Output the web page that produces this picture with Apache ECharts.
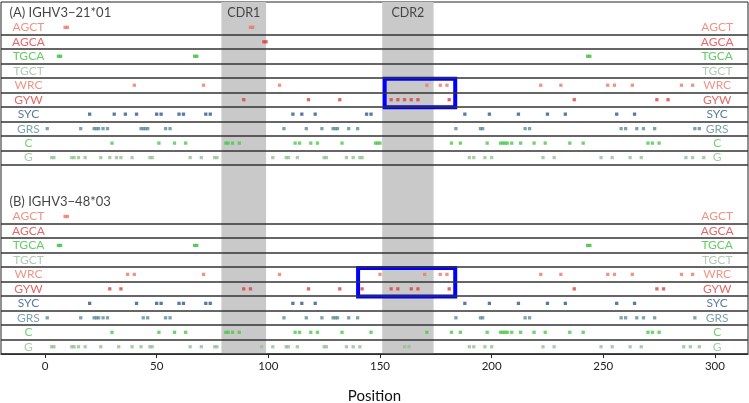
<!DOCTYPE html>
<html><head><meta charset="utf-8">
<script src="https://cdn.jsdelivr.net/npm/echarts@6/dist/echarts.min.js"></script>
<style>html,body{margin:0;padding:0;background:#fff}#c{width:749px;height:403px}</style>
</head><body><div id="c"></div>
<script>
// ---- data ----
const motifs = ['AGCT','AGCA','TGCA','TGCT','WRC','GYW','SYC','GRS','C','G'];
const motifColors = ['#ec7868','#e23f44','#3fbf3f','#9dbd9d','#ea7b6c','#e0403f','#2f5a8c','#5d8c99','#4cc84c','#92c292'];
const panelTitles = ['(A) IGHV3\u221221*01','(B) IGHV3\u221248*03'];
const xTicks = [0,50,100,150,200,250,300];
const cdrNames = ['CDR1','CDR2'];
const cdrStart = [79,151];
const cdrEnd = [99,174];
const boxA = [152.1,183.7];
const boxB = [140.2,183.7];

const aAGCT = [9,10,92,93];
const aAGCA = [98,99];
const aTGCA = [6,7,67,68,243,244];
const aTGCT = [];
const aWRC = [40,71,105,171,177,180,222,231,252,255,263,285,290];
const aGYW = [89,118,132,155,158,161,164,167,181,237,274,279];
const aSYC = [20,31,36,41,50,52,60,62,72,74,111,115,121,144,146,188,199,212,225,233,256,264];
const aGRS = [1,16,22,23,24,26,28,43,44,45,46,54,56,107,117,124,129,130,131,136,140,184,195,196,215,217,258,260,265,268,273,291,293];
const aC = [30,51,58,63,81,82,84,87,112,114,119,122,133,148,149,150,182,186,198,204,205,206,207,209,213,219,224,235,241,270,272,275];
const aG = [3,4,12,13,15,18,25,29,32,34,39,47,48,65,70,76,77,102,108,109,113,125,126,135,138,141,142,190,192,197,200,223,228,249,254,262,267,287,290,295];

const bAGCT = [9,10];
const bAGCA = [];
const bTGCA = [6,7,67,68,243,244];
const bTGCT = [];
const bWRC = [37,40,71,105,150,170,177,180,222,231,252,255,263,285,290];
const bGYW = [29,34,89,92,118,132,142,155,158,164,167,181,237,274,277];
const bSYC = [20,41,50,52,60,62,72,74,111,115,121,188,199,212,225,233,256,264];
const bGRS = [1,16,22,23,24,26,28,44,46,54,56,107,117,124,129,130,131,136,140,184,195,196,215,217,258,260,265,268,273,291];
const bC = [30,51,58,63,81,82,84,87,112,114,119,122,133,146,171,182,186,198,204,205,206,207,209,213,219,224,235,241,270,272,275];
const bG = [3,4,12,13,15,18,25,33,39,43,47,48,65,70,76,77,97,102,108,109,113,125,126,135,138,141,161,163,190,192,197,200,223,228,249,254,262,267,286,289,293];

const panelA = [aAGCT,aAGCA,aTGCA,aTGCT,aWRC,aGYW,aSYC,aGRS,aC,aG];
const panelB = [bAGCT,bAGCA,bTGCA,bTGCT,bWRC,bGYW,bSYC,bGRS,bC,bG];

// ---- layout ----
const FONT = 'Lato, "Open Sans", sans-serif';
const panelOffset = [0, 13.07];
const xMin = -19.7, xMax = 314.8;
const leftLabelX = -7.4, rightLabelX = 301, titleX = -15.9;

const series = [];
series.push({
  type:'scatter', data:[], z:1, silent:true,
  markArea:{silent:true, itemStyle:{color:'#c9c9c9'},
    data: cdrStart.map((s,i)=>[{xAxis:s},{xAxis:cdrEnd[i]}])},
});
const lineYs = [];
panelOffset.forEach(off => { for (let i=0;i<motifs.length;i++) lineYs.push(off+i+0.5); });
series.push({
  type:'scatter', data:[], z:2, silent:true,
  markLine:{silent:true, symbol:'none', label:{show:false},
    lineStyle:{color:'#333', width:1.5, type:'solid'},
    data: lineYs.map(y=>({yAxis:y}))}
});
[panelA,panelB].forEach((panel,p)=>{
  panel.forEach((arr,i)=>{
    series.push({
      type:'scatter', z:4, symbol:'rect', symbolSize:3.3, silent:true,
      itemStyle:{color:motifColors[i]},
      data: arr.map(x=>[x, panelOffset[p]+i])
    });
  });
});
const labelData = [];
panelOffset.forEach(off=>{
  motifs.forEach((m,i)=>{
    [leftLabelX,rightLabelX].forEach(x=>{
      labelData.push({value:[x,off+i], name:m, label:{color:motifColors[i]}});
    });
  });
});
series.push({
  type:'scatter', z:5, symbolSize:0, silent:true, data:labelData,
  label:{show:true, position:'inside', formatter:p=>p.name, fontFamily:FONT, fontSize:12}
});
series.push({
  type:'scatter', z:5, symbolSize:0, silent:true,
  data: panelTitles.map((t,p)=>({value:[titleX, panelOffset[p]-1], name:t})),
  label:{show:true, position:'right', distance:0, formatter:p=>p.name, fontFamily:FONT, fontSize:13, color:'#111'}
});
series.push({
  type:'scatter', z:5, symbolSize:0, silent:true,
  data: cdrNames.map((t,i)=>({value:[(cdrStart[i]+cdrEnd[i])/2, -1], name:t})),
  label:{show:true, position:'inside', formatter:p=>p.name, fontFamily:FONT, fontSize:12.5, color:'#222'}
});
series.push({
  type:'scatter', data:[], z:6, silent:true,
  markArea:{silent:true, itemStyle:{color:'rgba(0,0,0,0)', borderColor:'#0000ff', borderWidth:4},
    data:[
      [{coord:[boxA[0], panelOffset[0]+3.55]},{coord:[boxA[1], panelOffset[0]+5.52]}],
      [{coord:[boxB[0], panelOffset[1]+3.55]},{coord:[boxB[1], panelOffset[1]+5.52]}]
    ]}
});

const chart = echarts.init(document.getElementById('c'), null, {renderer:'canvas'});
chart.setOption({
  animation:false,
  grid:{left:1, right:1, top:2, bottom:49, show:true, borderColor:'#222', borderWidth:1,
    backgroundColor:'transparent', containLabel:false, outerBoundsMode:'none'},
  xAxis:{type:'value', min:xMin, max:xMax, name:'Position', nameLocation:'middle', nameGap:35,
    nameTextStyle:{fontFamily:FONT, fontSize:15, color:'#111'},
    splitLine:{show:false},
    axisLine:{show:true, onZero:false, lineStyle:{color:'#222', width:1}},
    axisTick:{show:true, length:4, customValues:xTicks, lineStyle:{color:'#222'}},
    axisLabel:{customValues:xTicks, fontFamily:FONT, fontSize:11.5, color:'#222', margin:6}
  },
  yAxis:{type:'value', min:-1.75, max:22.57, inverse:true, show:false},
  series
});
</script></body></html>
